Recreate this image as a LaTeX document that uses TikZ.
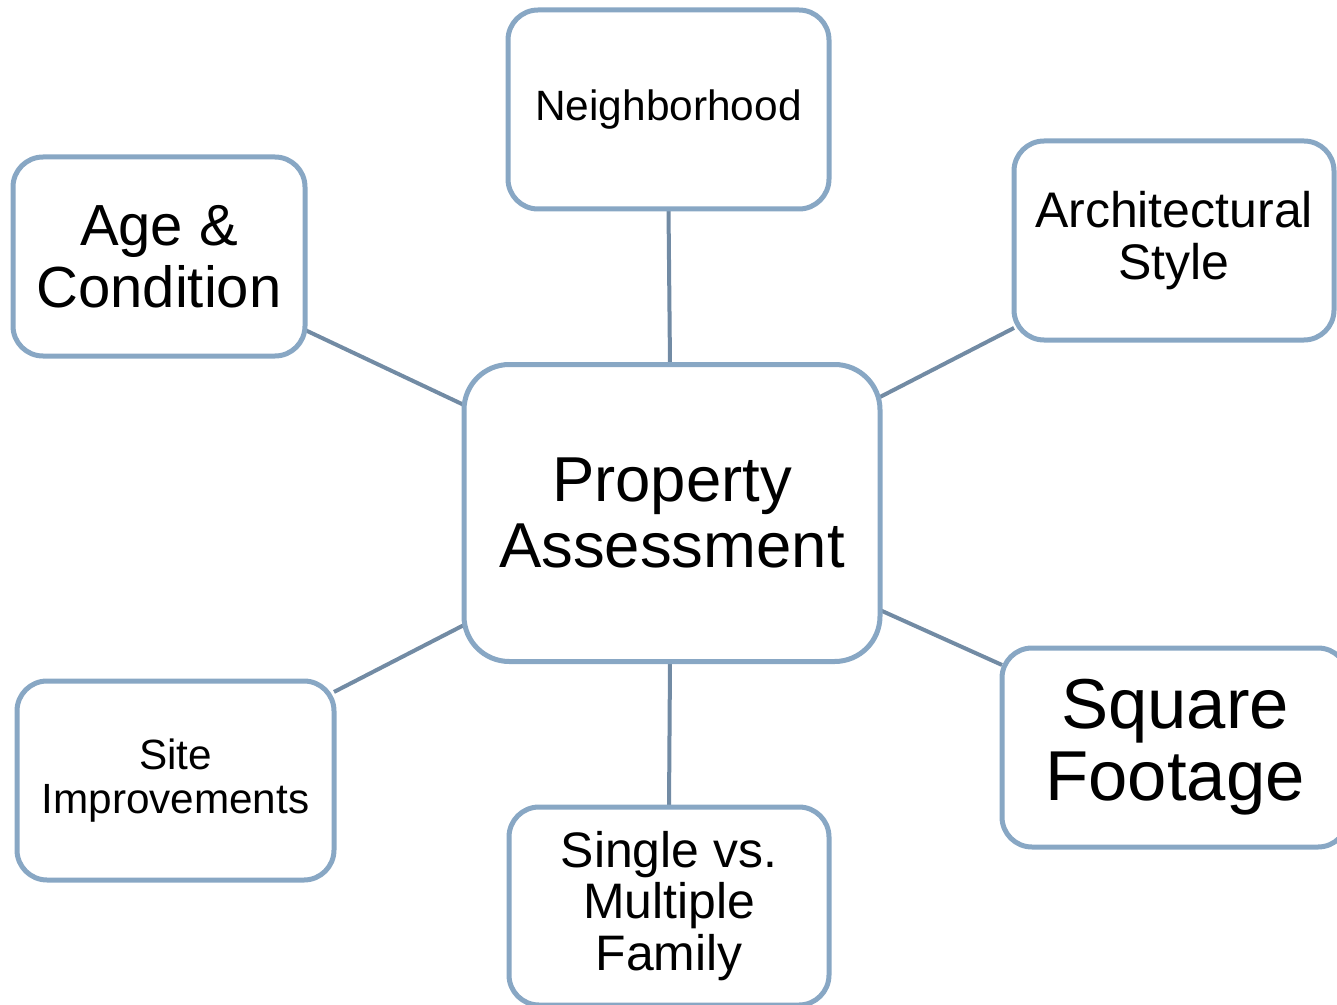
\documentclass[tikz,border=0pt]{standalone}
\usepackage{fontspec}
\setmainfont{Liberation Sans}
\usetikzlibrary{backgrounds}
\definecolor{boxline}{RGB}{136,167,196}
\definecolor{conline}{RGB}{114,139,164}
\tikzset{
  topicbox/.style={draw=boxline, line width=3.75pt, fill=white, rounded corners=22.5pt,
    align=center, inner sep=0pt, outer sep=0pt, minimum height=149.25pt},
  hubbox/.style={topicbox, rounded corners=34pt, minimum width=312pt, minimum height=222.75pt},
  link/.style={draw=conline, line width=3pt}
}
\begin{document}
\begin{tikzpicture}[x=0.75pt, y=-0.75pt]
\useasboundingbox (0,0) rectangle (1337,1005);
\clip (0,0) rectangle (1337,1005);
\node[hubbox, font=\fontsize{47.6pt}{50pt}\selectfont] (prop) at (672,513) {Property\\Assessment};
\node[topicbox, minimum width=240.75pt, font=\fontsize{31.8pt}{33pt}\selectfont] (nb) at (668.5,109.5) {\raisebox{-2pt}{Neighborhood}};
\node[topicbox, minimum width=219pt, font=\fontsize{43.5pt}{46.5pt}\selectfont] (age) at (159,256.5) {Age \&\\Condition};
\node[topicbox, minimum width=240pt, font=\fontsize{37.5pt}{39pt}\selectfont] (arch) at (1174,240.5) {Architectural\\Style};
\node[topicbox, minimum width=237.75pt, font=\fontsize{31.7pt}{33pt}\selectfont] (site) at (175.5,780.5) {Site\\Improvements};
\node[topicbox, minimum width=240pt, minimum height=148.5pt, font=\fontsize{37.4pt}{38.8pt}\selectfont] (single) at (669,906) {Single vs.\\Multiple\\Family};
\node[topicbox, minimum width=259.5pt, font=\fontsize{53pt}{53.8pt}\selectfont] (sq) at (1175,747.5) {Square\\Footage};
\begin{scope}[on background layer]
\draw[link] (nb.south) -- ([xshift=-1.5pt]prop.north);
\draw[link] (single.north) -- ([xshift=-1.5pt]prop.south);
\draw[link] ([yshift=-55.1pt]age.east) -- ([yshift=81pt]prop.west);
\draw[link] ([yshift=-65.6pt]arch.west) -- ([yshift=87pt]prop.east);
\draw[link] ([yshift=66.4pt]site.east) -- ([yshift=-84pt]prop.west);
\draw[link] ([yshift=61.9pt]sq.west) -- ([yshift=-72.8pt]prop.east);
\end{scope}
\end{tikzpicture}
\end{document}
